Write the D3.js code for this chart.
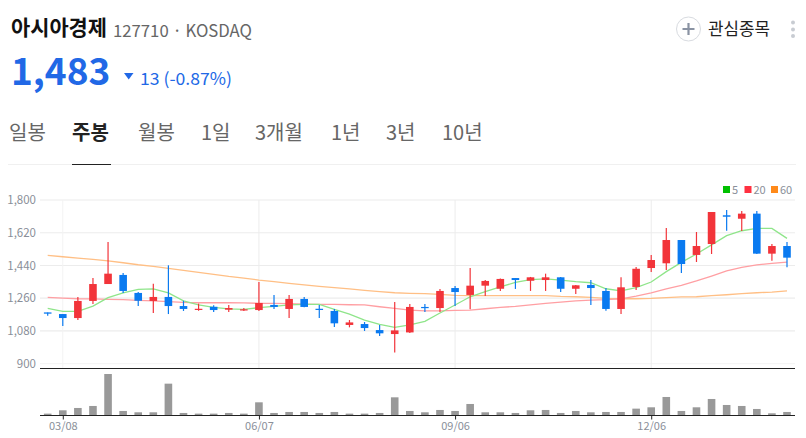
<!DOCTYPE html>
<html>
<head>
<meta charset="utf-8">
<script src="https://cdn.jsdelivr.net/npm/d3@7"></script>
<style>
  html, body { margin: 0; padding: 0; background: #fff; }
  svg { display: block; }
  text { font-family: "Noto Sans CJK KR", "Noto Sans", sans-serif; }
</style>
</head>
<body>
<div id="visualization"></div>
<script>
let w = 806;
let h = 438;

// weekly candles
let opens = [1182,1173,1151,1245,1338,1388,1289,1245,1267,1217,1197,1213,1197,1193,1195,1223,1201,1256,1202,1190,1113,1118,1085,1063,1072,1212,1206,1316,1278,1329,1312,1371,1356,1360,1375,1312,1333,1300,1201,1322,1426,1452,1580,1498,1558,1716,1697,1725,1505,1547];
let closes = [1175,1151,1245,1338,1395,1300,1246,1267,1217,1201,1202,1195,1206,1199,1234,1212,1256,1212,1199,1122,1127,1096,1067,1083,1212,1208,1300,1294,1329,1355,1366,1360,1375,1375,1312,1331,1316,1201,1320,1422,1470,1580,1448,1547,1734,1708,1725,1505,1547,1483];
let highs = [1182,1173,1267,1371,1569,1399,1294,1340,1441,1246,1230,1221,1223,1206,1349,1278,1278,1267,1223,1201,1140,1129,1113,1239,1228,1228,1311,1327,1426,1360,1369,1371,1377,1395,1377,1333,1360,1316,1375,1432,1498,1646,1580,1624,1734,1745,1739,1739,1558,1569];
let lows = [1164,1107,1140,1228,1338,1289,1217,1179,1173,1190,1191,1184,1184,1190,1190,1201,1151,1210,1151,1102,1100,1080,1052,962,1069,1184,1184,1217,1199,1272,1300,1311,1300,1300,1294,1283,1223,1191,1173,1305,1404,1415,1399,1459,1503,1631,1630,1503,1466,1430];

let ma5 = [1204,1188,1188,1217,1263,1289,1309,1311,1289,1245,1223,1210,1201,1199,1208,1215,1223,1226,1226,1199,1173,1140,1116,1100,1113,1133,1179,1223,1268,1296,1322,1347,1362,1366,1360,1351,1345,1312,1300,1318,1349,1406,1457,1503,1553,1604,1631,1644,1644,1589];
let ma20 = [1265,1261,1257,1256,1254,1252,1248,1245,1241,1237,1235,1235,1235,1234,1232,1232,1230,1228,1226,1226,1224,1223,1213,1204,1195,1190,1190,1193,1195,1202,1210,1215,1223,1232,1239,1245,1250,1252,1257,1272,1289,1312,1331,1355,1382,1410,1430,1443,1452,1459];
let ma60 = [1496,1488,1481,1474,1465,1455,1444,1435,1424,1413,1402,1391,1380,1371,1360,1351,1342,1333,1325,1318,1311,1303,1296,1290,1287,1285,1281,1276,1274,1274,1274,1274,1274,1274,1270,1268,1265,1259,1257,1257,1259,1263,1267,1268,1274,1279,1285,1290,1294,1300];

// thousands of shares, no scale in the picture so only relative
let volumes = [5,15,22,28,124,13,9,9,95,7,5,5,7,5,39,7,10,10,7,10,5,5,7,54,13,9,16,13,34,9,9,7,15,16,7,13,9,10,10,20,24,55,13,24,49,31,28,19,6,10];

let priceTicks = [900,1080,1260,1440,1620,1800];
let dateTickIndex = [1,14,27,40];
let dateTickLabels = ["03/08","06/07","09/06","12/06"];
let tabLabels = ["일봉","주봉","월봉","1일","3개월","1년","3년","10년"];
let tabLefts = [9,72,138,201,255,331,386,442];
let legendNames = ["5","20","60"];
let legendColors = ["#00c000","#ff3040","#ff8a1a"];

let red = "#f2343a";
let blue = "#0a7af0";

let viz = d3.select("#visualization")
  .append("svg")
    .attr("width", w)
    .attr("height", h)
    .style("background-color", "white")
;

// scales
let xScale = d3.scalePoint().domain(d3.range(opens.length)).range([47.7, 787]);
let yScale = d3.scaleLinear().domain([900, 1800]).range([363.7, 200]);
let volScale = d3.scaleLinear().domain([0, 124]).range([415.3, 374]);

// ---- header
viz.append("text").attr("x", 11).attr("y", 35).attr("font-size", 21).attr("font-weight", 700).attr("fill", "#111").attr("textLength", 96).attr("lengthAdjust", "spacingAndGlyphs").text("아시아경제");
viz.append("text").attr("x", 113).attr("y", 37).attr("font-size", 17).attr("fill", "#666").attr("textLength", 139).attr("lengthAdjust", "spacingAndGlyphs").text("127710 · KOSDAQ");
viz.append("text").attr("x", 11).attr("y", 85).attr("font-size", 37).attr("font-weight", 700).attr("fill", "#2168e6").text("1,483");
viz.append("path").attr("d", "M124,73 L133.5,73 L128.7,79.5 Z").attr("fill", "#2168e6");
viz.append("text").attr("x", 140).attr("y", 85).attr("font-size", 17).attr("fill", "#2168e6").attr("textLength", 92).attr("lengthAdjust", "spacingAndGlyphs").text("13 (-0.87%)");

// watchlist button
viz.append("circle").attr("cx", 688.5).attr("cy", 29).attr("r", 12).attr("fill", "white").attr("stroke", "#d8dbe0").attr("stroke-width", 1);
viz.append("path").attr("d", "M682.5,29 H694.5 M688.5,23 V35").attr("stroke", "#8a93a3").attr("stroke-width", 2.2);
viz.append("text").attr("x", 708).attr("y", 35).attr("font-size", 17).attr("fill", "#222").attr("textLength", 62).attr("lengthAdjust", "spacingAndGlyphs").text("관심종목");
viz.selectAll(".dot").data([22.5, 29.5, 36]).enter().append("circle")
  .attr("class", "dot").attr("cx", 793).attr("cy", d => d).attr("r", 2).attr("fill", "#c8ccd2");

// ---- tabs
viz.selectAll(".tab").data(tabLabels).enter().append("text")
  .attr("class", "tab")
  .attr("x", (d, i) => tabLefts[i])
  .attr("y", 140)
  .attr("font-size", 20)
  .attr("font-weight", (d, i) => i == 1 ? 700 : 400)
  .attr("fill", (d, i) => i == 1 ? "#222" : "#666")
  .text(d => d)
;
viz.append("line").attr("x1", 8).attr("x2", 796).attr("y1", 164.5).attr("y2", 164.5).attr("stroke", "#f0f0f0");
viz.append("line").attr("x1", 72).attr("x2", 111).attr("y1", 164.5).attr("y2", 164.5).attr("stroke", "#222");

// ---- legend
let legendX = [723, 744.5, 771];
viz.selectAll(".legendbox").data(legendNames).enter().append("rect")
  .attr("class", "legendbox")
  .attr("x", (d, i) => legendX[i]).attr("y", 186)
  .attr("width", 7).attr("height", 7)
  .attr("fill", (d, i) => legendColors[i]);
viz.selectAll(".legendtext").data(legendNames).enter().append("text")
  .attr("class", "legendtext")
  .attr("x", (d, i) => legendX[i] + 9).attr("y", 193.5)
  .attr("font-size", 11).attr("fill", "#8a8f99")
  .text(d => d);

// ---- grid + axes
let yAxis = d3.axisLeft(yScale).tickValues(priceTicks).tickFormat(d3.format(",")).tickSize(0).tickPadding(4);
let yAxisGroup = viz.append("g").attr("class", "yaxisgroup").attr("transform", "translate(40,0)").call(yAxis);
yAxisGroup.select(".domain").remove();
yAxisGroup.selectAll("text").attr("font-size", 11.5).attr("fill", "#8a8f99").style("font-family", '"Noto Sans CJK KR"');

viz.selectAll(".hgrid").data(priceTicks).enter().append("line")
  .attr("class", "hgrid")
  .attr("x1", 40).attr("x2", 795)
  .attr("y1", d => yScale(d)).attr("y2", d => yScale(d))
  .attr("stroke", d => d == 900 ? "#f5f5f5" : "#ececec")
  .attr("stroke-width", 1.2);
viz.selectAll(".vgrid").data(dateTickIndex).enter().append("line")
  .attr("class", "vgrid")
  .attr("x1", d => xScale(d)).attr("x2", d => xScale(d))
  .attr("y1", 200).attr("y2", 368)
  .attr("stroke", (d, i) => i == 0 ? "#f3f3f3" : "#ececec");

// ---- moving averages
let maLine = d3.line().x((d, i) => xScale(i)).y(d => yScale(d));
[[ma60, "#ffbf85"], [ma20, "#ff9fa3"], [ma5, "#8fe58a"]].forEach(s => {
  viz.append("path")
    .attr("d", maLine(s[0]))
    .attr("fill", "none")
    .attr("stroke", s[1])
    .attr("stroke-width", 1.3);
});

// ---- candles
let candleColor = i => closes[i] >= opens[i] ? red : blue;
viz.selectAll(".wick").data(opens).enter().append("line")
  .attr("class", "wick")
  .attr("x1", (d, i) => xScale(i)).attr("x2", (d, i) => xScale(i))
  .attr("y1", (d, i) => yScale(highs[i])).attr("y2", (d, i) => yScale(lows[i]))
  .attr("stroke", (d, i) => candleColor(i))
  .attr("stroke-width", 1.2);
viz.selectAll(".body").data(opens).enter().append("rect")
  .attr("class", "body")
  .attr("x", (d, i) => xScale(i) - 3.8)
  .attr("width", 7.6)
  .attr("y", (d, i) => yScale(Math.max(d, closes[i])))
  .attr("height", (d, i) => Math.max(1.2, Math.abs(yScale(d) - yScale(closes[i]))))
  .attr("fill", (d, i) => candleColor(i));

// ---- volume panel
viz.append("line").attr("x1", 40).attr("x2", 795).attr("y1", 368.5).attr("y2", 368.5).attr("stroke", "#222").attr("stroke-width", 1.2);
viz.selectAll(".vol").data(volumes).enter().append("rect")
  .attr("class", "vol")
  .attr("x", (d, i) => xScale(i) - 3.8)
  .attr("width", 7.6)
  .attr("y", d => volScale(d))
  .attr("height", d => volScale(0) - volScale(d))
  .attr("fill", "#999");

let xAxis = d3.axisBottom(xScale)
  .tickValues(dateTickIndex)
  .tickFormat(d => dateTickLabels[dateTickIndex.indexOf(d)])
  .tickSize(4).tickPadding(3);
let xAxisGroup = viz.append("g").attr("class", "xaxisgroup").attr("transform", "translate(0,415.5)").call(xAxis);
xAxisGroup.select(".domain").attr("stroke", "#222").attr("stroke-width", 1.2).attr("d", "M40,0H795");
xAxisGroup.selectAll("line").attr("stroke", "#222");
xAxisGroup.selectAll("text").attr("font-size", 11).attr("fill", "#8a8f99").style("font-family", '"Noto Sans CJK KR"');
</script>
</body>
</html>
